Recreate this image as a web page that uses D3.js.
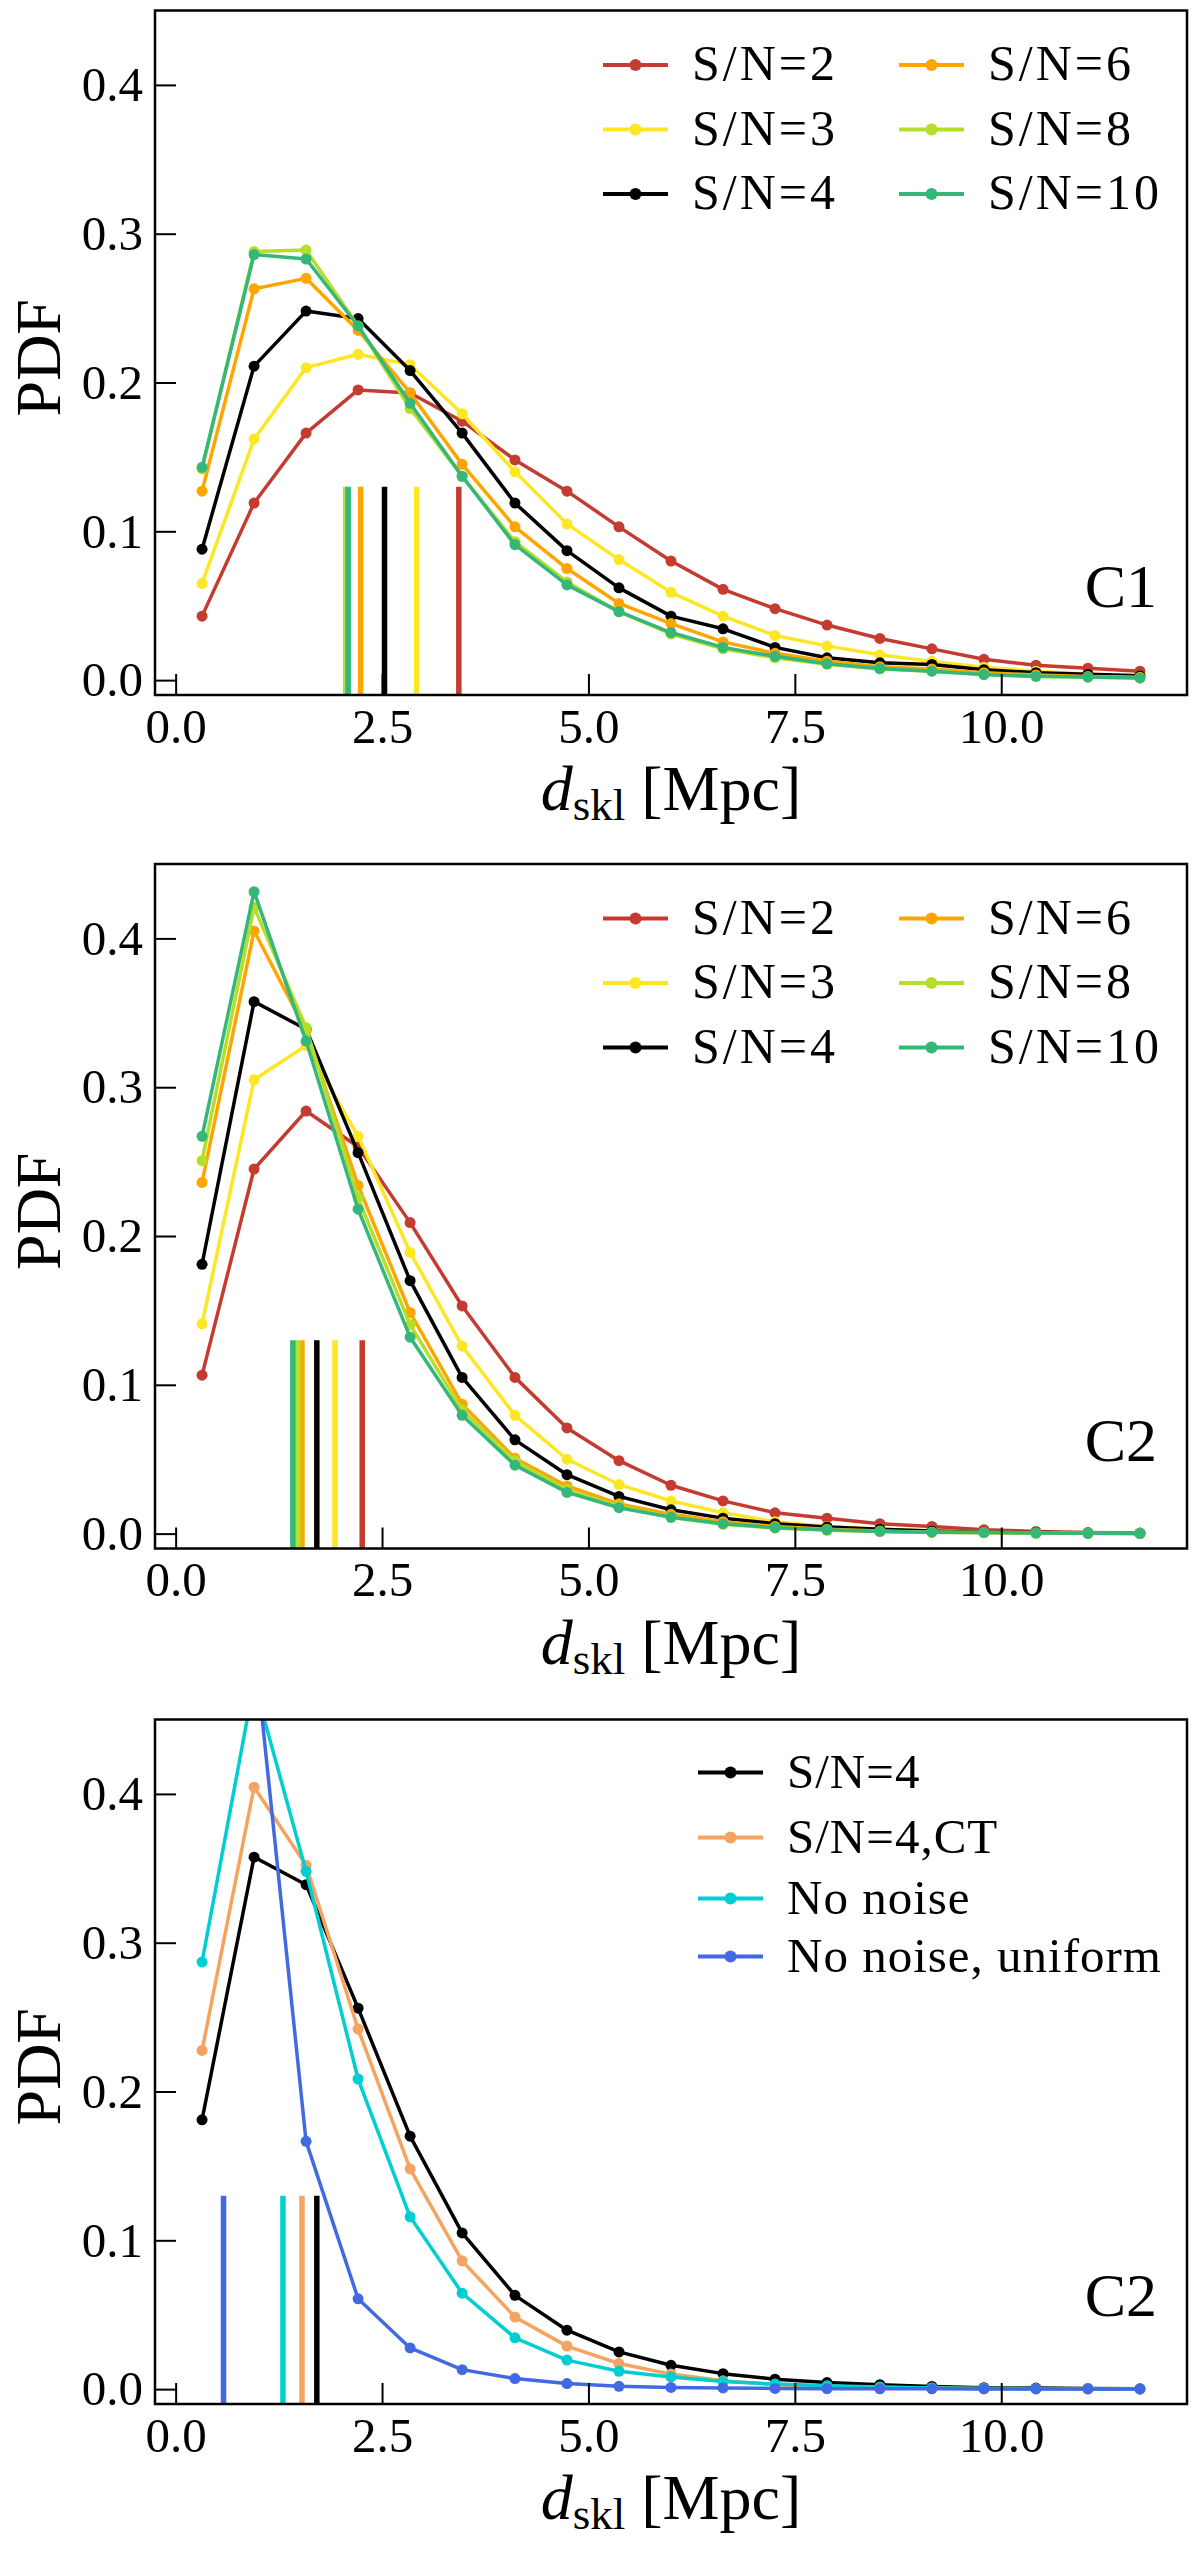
<!DOCTYPE html>
<html>
<head>
<meta charset="utf-8">
<script src="https://cdn.jsdelivr.net/npm/d3@7"></script>
<style>
body { margin: 0; background: #fff; }
text { font-family: "Liberation Serif", "Times New Roman", serif; fill: #000; }
</style>
</head>
<body>
<div id="chart"></div>
<script>
// bin centres of d_skl [Mpc]
var dskl = [0.32, 0.95, 1.58, 2.21, 2.84, 3.47, 4.11, 4.74, 5.37, 6.00, 6.63, 7.26, 7.89, 8.53, 9.16, 9.79, 10.42, 11.05, 11.68];

var xTicks = [0, 2.5, 5, 7.5, 10];
var yTicks = [0, 0.1, 0.2, 0.3, 0.4];

var snLabels = ["S/N=2", "S/N=3", "S/N=4", "S/N=6", "S/N=8", "S/N=10"];
var snColors = ["#c43b30", "#fde725", "#000000", "#ffa500", "#b5de2b", "#35b779"];

// C1
var c1_sn2  = [0.043, 0.119, 0.166, 0.195, 0.193, 0.174, 0.148, 0.127, 0.103, 0.080, 0.061, 0.048, 0.037, 0.028, 0.021, 0.014, 0.010, 0.008, 0.006];
var c1_sn3  = [0.065, 0.162, 0.210, 0.219, 0.212, 0.179, 0.140, 0.105, 0.081, 0.059, 0.043, 0.030, 0.023, 0.017, 0.0126, 0.0087, 0.006, 0.004, 0.003];
var c1_sn4  = [0.088, 0.211, 0.248, 0.243, 0.208, 0.166, 0.119, 0.087, 0.062, 0.043, 0.0345, 0.022, 0.015, 0.0116, 0.0105, 0.007, 0.005, 0.004, 0.003];
var c1_sn6  = [0.127, 0.263, 0.270, 0.235, 0.193, 0.145, 0.103, 0.075, 0.0515, 0.038, 0.0257, 0.018, 0.0127, 0.009, 0.0075, 0.005, 0.0035, 0.0025, 0.002];
var c1_sn8  = [0.142, 0.288, 0.289, 0.238, 0.1825, 0.137, 0.093, 0.066, 0.046, 0.031, 0.021, 0.015, 0.0106, 0.0075, 0.006, 0.0037, 0.0026, 0.002, 0.0015];
var c1_sn10 = [0.143, 0.286, 0.283, 0.238, 0.186, 0.137, 0.091, 0.064, 0.046, 0.032, 0.022, 0.016, 0.011, 0.0078, 0.006, 0.0037, 0.0026, 0.0021, 0.0015];
var c1_median = [3.43, 2.92, 2.53, 2.24, 2.06, 2.09];

// C2
var c2_sn2  = [0.1065, 0.245, 0.284, 0.260, 0.209, 0.153, 0.105, 0.071, 0.049, 0.0325, 0.022, 0.014, 0.0104, 0.0067, 0.0048, 0.0026, 0.0015, 0.0007, 0.0004];
var c2_sn3  = [0.141, 0.305, 0.328, 0.267, 0.189, 0.126, 0.0795, 0.050, 0.033, 0.022, 0.014, 0.008, 0.0048, 0.003, 0.0018, 0.001, 0.0006, 0.0004, 0.0002];
var c2_sn4  = [0.181, 0.3575, 0.339, 0.256, 0.170, 0.105, 0.063, 0.0396, 0.025, 0.016, 0.0104, 0.0067, 0.0044, 0.003, 0.0018, 0.001, 0.0007, 0.0004, 0.0002];
var c2_sn6  = [0.236, 0.405, 0.338, 0.234, 0.1486, 0.087, 0.0506, 0.032, 0.020, 0.013, 0.008, 0.0048, 0.003, 0.0018, 0.001, 0.0007, 0.0004, 0.0002, 0.0001];
var c2_sn8  = [0.2506, 0.421, 0.340, 0.2255, 0.1405, 0.083, 0.0488, 0.0296, 0.0185, 0.011, 0.0063, 0.0037, 0.0022, 0.0015, 0.001, 0.0006, 0.0004, 0.0002, 0.0001];
var c2_sn10 = [0.267, 0.4314, 0.331, 0.218, 0.132, 0.0795, 0.046, 0.0277, 0.0174, 0.011, 0.0067, 0.004, 0.0026, 0.0015, 0.001, 0.0007, 0.0004, 0.0002, 0.0001];
var c2_median = [2.26, 1.93, 1.71, 1.53, 1.48, 1.42];

// C2, noise comparison
var cmpLabels = ["S/N=4", "S/N=4,CT", "No noise", "No noise, uniform"];
var cmpColors = ["#000000", "#f4a460", "#00ced1", "#4169e1"];
var c2_ct      = [0.2276, 0.4045, 0.352, 0.242, 0.148, 0.0862, 0.0484, 0.0289, 0.0172, 0.0101, 0.0056, 0.003, 0.0019, 0.0011, 0.0008, 0.0004, 0.0003, 0.0002, 0.0001];
var c2_nonoise = [0.287, 0.475, 0.348, 0.2084, 0.1158, 0.0645, 0.0345, 0.0195, 0.012, 0.0082, 0.0052, 0.0034, 0.0022, 0.0015, 0.0008, 0.0005, 0.0003, 0.0002, 0.0001];
var c2_uniform = [0.80, 0.503, 0.1665, 0.0607, 0.0277, 0.0131, 0.0071, 0.0037, 0.0019, 0.0011, 0.0008, 0.0005, 0.0003, 0.0002, 0.0002, 0.0001, 0.0001, 0.0001, 0.0001];
var cmp_median = [1.71, 1.53, 1.30, 0.58];

var width = 1200;
var height = 2553;
var left = 155, right = 1187, panelH = 684.5;

var panels = [
  {top: 10.5, tag: "C1", series: [c1_sn2, c1_sn3, c1_sn4, c1_sn6, c1_sn8, c1_sn10], median: c1_median, labels: snLabels, colors: snColors, twoCol: true},
  {top: 864, tag: "C2", series: [c2_sn2, c2_sn3, c2_sn4, c2_sn6, c2_sn8, c2_sn10], median: c2_median, labels: snLabels, colors: snColors, twoCol: true},
  {top: 1719.5, tag: "C2", series: [c2_sn4, c2_ct, c2_nonoise, c2_uniform], median: cmp_median, labels: cmpLabels, colors: cmpColors, twoCol: false}
];

var svg = d3.select("#chart").append("svg")
  .attr("width", width)
  .attr("height", height);

svg.append("rect").attr("width", width).attr("height", height).attr("fill", "#fff");

var x = d3.scaleLinear().domain([-0.25, 12.25]).range([left, right]);
var y = d3.scaleLinear().domain([-0.01, 0.45]).range([panelH, 0]);

var line = d3.line()
  .x(function(d, i) { return x(dskl[i]); })
  .y(function(d) { return y(d); });

panels.forEach(function(p, pi) {
  var g = svg.append("g").attr("transform", "translate(0," + p.top + ")");

  g.append("clipPath").attr("id", "clip" + pi)
    .append("rect")
    .attr("x", left).attr("y", 0)
    .attr("width", right - left).attr("height", panelH);

  var plot = g.append("g").attr("clip-path", "url(#clip" + pi + ")");

  // curves with markers
  p.series.forEach(function(s, si) {
    plot.append("path")
      .datum(s)
      .attr("d", line)
      .attr("fill", "none")
      .attr("stroke", p.colors[si])
      .attr("stroke-width", 3.5)
      .attr("stroke-linejoin", "round");
    plot.selectAll(null).data(s).enter().append("circle")
      .attr("cx", function(d, i) { return x(dskl[i]); })
      .attr("cy", function(d) { return y(d); })
      .attr("r", 5.5)
      .attr("fill", p.colors[si]);
  });

  // medians
  plot.selectAll(null).data(p.median).enter().append("line")
    .attr("x1", function(d) { return x(d); })
    .attr("x2", function(d) { return x(d); })
    .attr("y1", y(-0.01))
    .attr("y2", y(0.13))
    .attr("stroke", function(d, i) { return p.colors[i]; })
    .attr("stroke-width", 5.5);

  // axes, ticks pointing in
  var ya = g.append("g").attr("transform", "translate(" + left + ",0)")
    .call(d3.axisLeft(y).tickValues(yTicks).tickFormat(d3.format(".1f"))
      .tickSizeInner(-21).tickSizeOuter(0).tickPadding(12));
  var xa = g.append("g").attr("transform", "translate(0," + panelH + ")")
    .call(d3.axisBottom(x).tickValues(xTicks).tickFormat(d3.format(".1f"))
      .tickSizeInner(-21).tickSizeOuter(0).tickPadding(13));
  [ya, xa].forEach(function(a) {
    a.select(".domain").remove();
    a.selectAll(".tick line").attr("stroke", "#000").attr("stroke-width", 2);
    a.selectAll(".tick text")
      .style("font-family", "Liberation Serif")
      .style("font-size", "49px")
      .attr("fill", "#000");
  });

  g.append("rect")
    .attr("x", left).attr("y", 0)
    .attr("width", right - left).attr("height", panelH)
    .attr("fill", "none")
    .attr("stroke", "#000")
    .attr("stroke-width", 2.5);

  // axis labels
  g.append("text")
    .attr("transform", "translate(60," + (panelH / 2 + 5) + ") rotate(-90)")
    .attr("text-anchor", "middle")
    .style("font-size", "64px")
    .text("PDF");

  var xl = g.append("text")
    .attr("x", (left + right) / 2)
    .attr("y", panelH + 115)
    .attr("text-anchor", "middle")
    .style("font-size", "64px");
  xl.append("tspan").style("font-style", "italic").text("d");
  xl.append("tspan").attr("dy", 10).style("font-size", "45px").text("skl");
  xl.append("tspan").attr("dy", -10).text(" [Mpc]");

  g.append("text")
    .attr("x", 1157)
    .attr("y", panelH - 88)
    .attr("text-anchor", "end")
    .style("font-size", "62px")
    .text(p.tag);

  // legend
  var rowsTwo = [54.5, 119, 183.5];
  var rowsOne = [53, 118, 179, 237];
  p.labels.forEach(function(lab, li) {
    var lx, ly;
    if (p.twoCol) {
      lx = li < 3 ? 603 : 899;
      ly = rowsTwo[li % 3];
    } else {
      lx = 698;
      ly = rowsOne[li];
    }
    g.append("line")
      .attr("x1", lx).attr("x2", lx + 65)
      .attr("y1", ly).attr("y2", ly)
      .attr("stroke", p.colors[li])
      .attr("stroke-width", 4);
    g.append("circle")
      .attr("cx", lx + 32.5).attr("cy", ly)
      .attr("r", 6)
      .attr("fill", p.colors[li]);
    g.append("text")
      .attr("x", lx + 89)
      .attr("y", ly + 15)
      .style("font-size", p.twoCol ? "50px" : "49px")
      .style("letter-spacing", p.twoCol ? "3px" : "1px")
      .text(lab);
  });
});
</script>
</body>
</html>
